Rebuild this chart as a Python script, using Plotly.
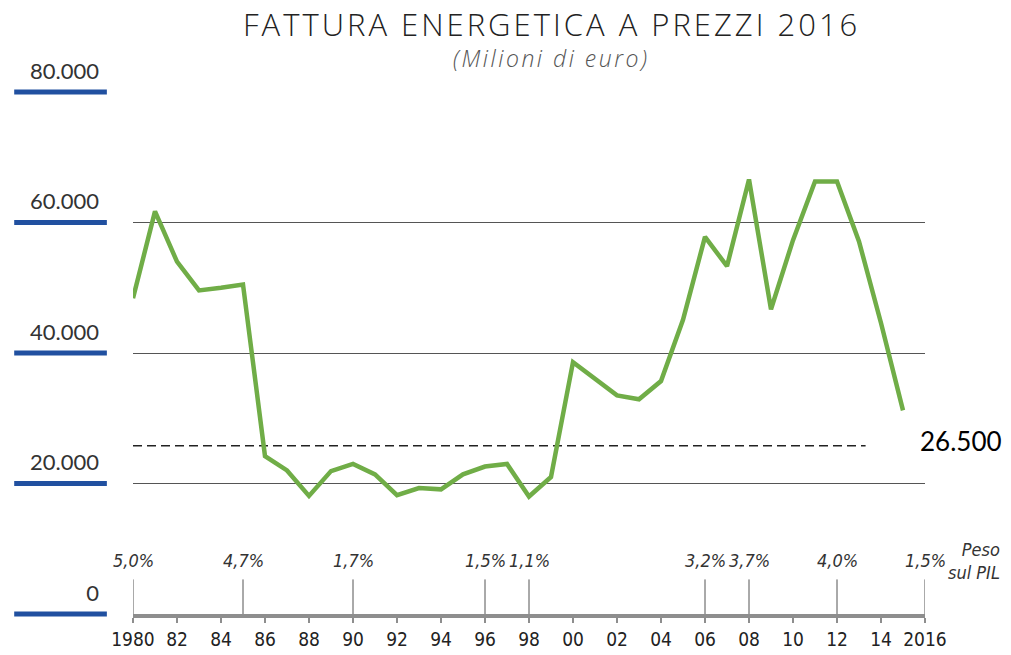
import plotly.graph_objects as go

# Fattura energetica italiana a prezzi 2016, milioni di euro
YEARS = [1980, 1981, 1982, 1983, 1984, 1985, 1986, 1987, 1988, 1989,
         1990, 1991, 1992, 1993, 1994, 1995, 1996, 1997, 1998, 1999,
         2000, 2001, 2002, 2003, 2004, 2005, 2006, 2007, 2008, 2009,
         2010, 2011, 2012, 2013, 2014, 2015]
BILL = [48400, 61700, 54000, 49600, 50000, 50500, 24200, 22000, 18100, 21900,
        23000, 21400, 18200, 19300, 19100, 21400, 22600, 23000, 18000, 21000,
        38600, 36000, 33500, 32900, 35700, 45100, 57800, 53300, 66600, 46700,
        57300, 66300, 66300, 57100, 44600, 31200]

Y_RANGE = [0, 80000]
Y_TICKS = [0, 20000, 40000, 60000, 80000]
Y_TICK_TEXT = ["0", "20.000", "40.000", "60.000", "80.000"]

X_TICKS = [1980, 1982, 1984, 1986, 1988, 1990, 1992, 1994, 1996, 1998,
           2000, 2002, 2004, 2006, 2008, 2010, 2012, 2014, 2016]
X_TICK_TEXT = ["1980", "82", "84", "86", "88", "90", "92", "94", "96", "98",
               "00", "02", "04", "06", "08", "10", "12", "14", "2016"]

# peso sul PIL
PIL_YEARS = [1980, 1985, 1990, 1996, 1998, 2006, 2008, 2012, 2016]
PIL_SHARE = ["5,0%", "4,7%", "1,7%", "1,5%", "1,1%", "3,2%", "3,7%", "4,0%", "1,5%"]

REF_LINE = 25800
REF_LABEL = "26.500"

GREEN = "#70ad47"
BLUE = "#2150a0"
GRID = "#555555"
AXIS_GRAY = "#8e8e8e"
NARROW = "Liberation Sans Narrow, DejaVu Sans Condensed, Roboto, sans-serif"
WIDE = "Open Sans, Lato, sans-serif"

fig = go.Figure(go.Scatter(
    x=YEARS, y=BILL, mode="lines",
    line=dict(color=GREEN, width=4.5),
    hoverinfo="x+y", showlegend=False,
))

shapes = []
# blue markers under the y labels (paper coords so they are not clipped at the edges)
for v in Y_TICKS:
    yp = (v - Y_RANGE[0]) / (Y_RANGE[1] - Y_RANGE[0])
    shapes.append(dict(type="line", xref="paper", yref="paper", x0=-0.150, x1=-0.033,
                       y0=yp, y1=yp, line=dict(color=BLUE, width=5)))
for yr in PIL_YEARS:
    shapes.append(dict(type="line", xref="x", yref="y", x0=yr, x1=yr,
                       y0=0, y1=5300, line=dict(color=GRID, width=1), layer="below"))
shapes.append(dict(type="line", xref="x", yref="y", x0=1980, x1=2013.3,
                   y0=REF_LINE, y1=REF_LINE,
                   line=dict(color="#222222", width=1.5, dash="9px,5px"), layer="below"))

annotations = [
    dict(text="<span style='letter-spacing:3px'>FATTURA ENERGETICA A PREZZI 2016</span>",
         xref="paper", yref="paper",
         x=0.528, y=1.130, xanchor="center", yanchor="middle", showarrow=False,
         font=dict(family=WIDE, size=31, color="#222222", weight=300)),
    dict(text="<span style='letter-spacing:2.5px'><i>(Milioni di euro)</i></span>",
         xref="paper", yref="paper",
         x=0.528, y=1.065, xanchor="center", yanchor="middle", showarrow=False,
         font=dict(family=WIDE, size=23, color="#555555", weight=300)),
    dict(text="<i>Peso<br>sul PIL</i>", xref="paper", yref="y", x=1.097, y=8200,
         xanchor="right", yanchor="middle", align="right", showarrow=False,
         font=dict(family=NARROW, size=18, color="#333333")),
    dict(text=REF_LABEL, xref="paper", yref="y", x=0.991, y=26500,
         xanchor="left", yanchor="middle", showarrow=False,
         font=dict(family="Lato, sans-serif", size=26, color="#000000")),
]
for yr, s in zip(PIL_YEARS, PIL_SHARE):
    annotations.append(dict(text="<i>" + s + "</i>", xref="x", yref="y", x=yr, y=8200,
                            xanchor="center", yanchor="middle", showarrow=False,
                            font=dict(family=NARROW, size=18, color="#333333")))

fig.update_layout(
    width=1011, height=655,
    margin=dict(l=133, r=86, t=92, b=41),
    paper_bgcolor="white",
    plot_bgcolor="white",
    shapes=shapes,
    annotations=annotations,
    xaxis=dict(
        range=[1980, 2016], tickvals=X_TICKS, ticktext=X_TICK_TEXT,
        showgrid=False, zeroline=False,
        showline=True, linecolor=AXIS_GRAY, linewidth=4,
        ticks="outside", ticklen=5, tickwidth=1.5, tickcolor=AXIS_GRAY,
        tickfont=dict(family=NARROW, size=19, color="#222222"),
        automargin=False, fixedrange=True,
    ),
    yaxis=dict(
        range=Y_RANGE, tickvals=Y_TICKS, ticktext=Y_TICK_TEXT,
        showgrid=True, gridcolor=GRID, gridwidth=1, zeroline=False,
        showline=False, ticks="",
        ticklabelshift=-21, ticklabelstandoff=33,
        tickfont=dict(family="Lato, sans-serif", size=22, color="#333333"),
        automargin=False, fixedrange=True,
    ),
)

fig.write_html("out.html", config={"displayModeBar": False},
               post_script="document.body.style.margin='0';")
